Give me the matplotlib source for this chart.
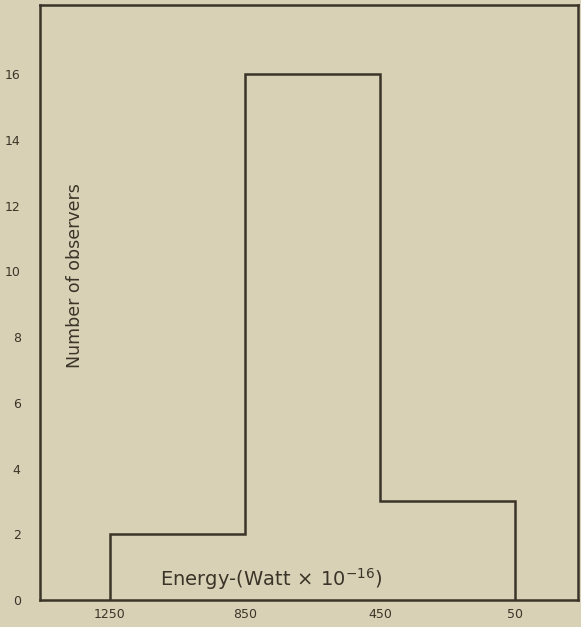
import numpy as np
import matplotlib.pyplot as plt

# bin edges (energy, Watt x 10^-16) and counts of observers
edges = [50, 450, 850, 1250]
counts = [3, 16, 2]
x_ticks = [1250, 850, 450, 50]
y_ticks = [0, 2, 4, 6, 8, 10, 12, 14, 16]

bg = '#d9d1b6'
ink = '#3b3428'

fig = plt.figure(figsize=(5.81, 6.27), dpi=100, facecolor=bg)
ax = fig.add_axes([0.069, 0.043, 0.926, 0.949], facecolor=bg)

ax.stairs(counts, edges, baseline=0, color=ink, linewidth=1.8)

ax.set_xlim(1457, -137)
ax.set_ylim(0, 18.1)
ax.set_xticks(x_ticks)
ax.set_xticklabels([str(v) for v in x_ticks])
ax.set_yticks(y_ticks)
ax.tick_params(length=0, colors=ink, labelsize=9)
ax.tick_params(axis='y', pad=14)
ax.tick_params(axis='x', pad=6)

for s in ax.spines.values():
    s.set_color(ink)
    s.set_linewidth(1.8)

ax.text(0.065, 0.545, 'Number of observers', transform=ax.transAxes,
        rotation=90, ha='center', va='center', fontsize=12.5, color=ink)
ax.text(0.43, 0.035, r'Energy-(Watt$\,\times\,$10$^{-16}$)', transform=ax.transAxes,
        ha='center', va='center', fontsize=14, color=ink)

fig.savefig('out.png', dpi=100, facecolor=bg)
